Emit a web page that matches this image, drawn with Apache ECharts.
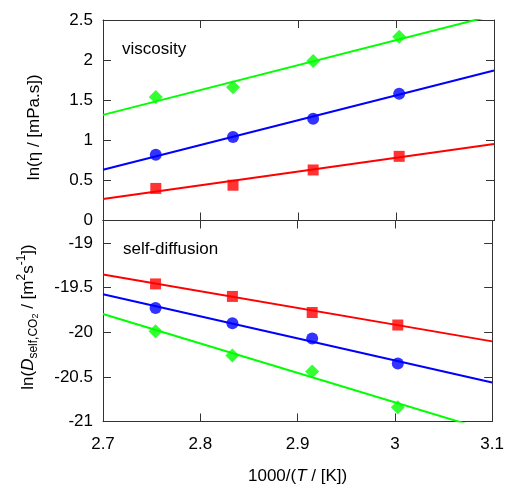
<!DOCTYPE html>
<html>
<head>
<meta charset="utf-8">
<script src="https://cdn.jsdelivr.net/npm/echarts@6/dist/echarts.min.js"></script>
<style>
html,body{margin:0;padding:0;background:#fff;}
#chart{width:507px;height:489px;}
</style>
</head>
<body>
<div id="chart"></div>
<script>
// x values: 1000/(T/[K])
const xPoints = [2.754, 2.833, 2.915, 3.003];
const fitX = [2.7, 3.1];

// Viscosity ln(eta / [mPa.s])
const viscRed   = [0.40, 0.44, 0.63, 0.80];
const viscBlue  = [0.82, 1.04, 1.27, 1.58];
const viscGreen = [1.54, 1.66, 1.99, 2.29];
const viscRedFit   = [0.267, 0.954];
const viscBlueFit  = [0.633, 1.871];
const viscGreenFit = [1.317, 2.560];

// Self-diffusion ln(D / [m2 s-1])
const diffRed   = [-19.46, -19.60, -19.78, -19.92];
const diffBlue  = [-19.73, -19.90, -20.07, -20.35];
const diffGreen = [-19.99, -20.26, -20.44, -20.84];
const diffRedFit   = [-19.355, -20.103];
const diffBlueFit  = [-19.576, -20.563];
const diffGreenFit = [-19.796, -21.115];

const xTicks = [2.7, 2.8, 2.9, 3.0, 3.1];
const viscTicks = [0, 0.5, 1, 1.5, 2, 2.5];
const diffTicks = [-21, -20.5, -20, -19.5, -19];

const RED = '#ff0000', BLUE = '#0000ff', GREEN = '#00ff00';
const AX = '#333333';
const FONT = 'Liberation Sans, Arial, Helvetica, sans-serif';

function pairs(xs, ys){ return xs.map((x,i)=>[x, ys[i]]); }

const axisLineStyle = {show:true, onZero:false, lineStyle:{color:AX, width:1}};
const tickStyle = {show:true, inside:true, length:8, lineStyle:{color:AX, width:1}};

function xAx(grid, pos, showLabel, name){
  const a = {
    type:'value', gridIndex:grid, position:pos, min:2.7, max:3.1, interval:0.1,
    axisLine:axisLineStyle, axisTick:tickStyle, splitLine:{show:false},
    axisLabel:{show:showLabel, margin:14, fontSize:17, color:'#000', fontFamily:FONT,
      formatter: v => { const s = Math.round(v*10)/10; return s === 3 ? '3' : String(s); }}
  };
  if (name) {
    a.name = name; a.nameLocation = 'middle'; a.nameGap = 46;
    a.nameTextStyle = {fontSize:17, color:'#000', fontFamily:FONT,
      rich:{i:{fontSize:17, fontStyle:'italic', fontFamily:FONT, color:'#000'}}};
  }
  return a;
}

function yAx(grid, pos, min, max, showLabel, name, nameOpts){
  const a = {
    type:'value', gridIndex:grid, position:pos, min:min, max:max, interval:0.5,
    axisLine:axisLineStyle, axisTick:tickStyle, splitLine:{show:false},
    axisLabel:{show:showLabel, margin:10, fontSize:17, color:'#000', fontFamily:FONT,
      showMaxLabel: grid===0, showMinLabel:true,
      formatter: v => String(Math.round(v*100)/100)}
  };
  if (name) Object.assign(a, {name:name, nameLocation:'middle'}, nameOpts);
  return a;
}

const chart = echarts.init(document.getElementById('chart'), null, {renderer:'canvas'});

const option = {
  animation:false,
  backgroundColor:'#ffffff',
  grid:[
    {left:103, right:13, top:20, height:200.5, containLabel:false},
    {left:103, right:13, top:220.5, height:201, containLabel:false}
  ],
  xAxis:[
    xAx(0,'bottom',false),
    xAx(0,'top',false),
    xAx(1,'bottom',true,'1000/({i|T} / [K])'),
    xAx(1,'top',false)
  ],
  yAxis:[
    yAx(0,'left',0,2.5,true,'ln(η / [mPa.s])',{nameGap:60,
      nameTextStyle:{fontSize:17,color:'#000',fontFamily:FONT,padding:[0,14,0,0]}}),
    yAx(0,'right',0,2.5,false),
    yAx(1,'left',-21,-18.75,true,'{n|ln(}{i|D}{s|self,CO}{ss|2}{n| / [m}{p|2}{n|s}{p|-1}{n|])}',{nameGap:63,
      nameTextStyle:{fontSize:17,color:'#000',fontFamily:FONT,padding:[0,0,0,8],
        rich:{
          n:{fontSize:17,lineHeight:24,verticalAlign:'middle',fontFamily:FONT,color:'#000'},
          i:{fontSize:17,lineHeight:24,verticalAlign:'middle',fontStyle:'italic',fontFamily:FONT,color:'#000'},
          s:{fontSize:12,lineHeight:14,verticalAlign:'bottom',fontFamily:FONT,color:'#000'},
          ss:{fontSize:9,lineHeight:7,verticalAlign:'bottom',fontFamily:FONT,color:'#000'},
          p:{fontSize:12,lineHeight:12,verticalAlign:'top',fontFamily:FONT,color:'#000'}
        }}}),
    yAx(1,'right',-21,-18.75,false)
  ],
  series:[
    {type:'line', xAxisIndex:0, yAxisIndex:0, data:pairs(fitX, viscRedFit), showSymbol:false, clip:true, lineStyle:{color:RED,width:2}, silent:true},
    {type:'line', xAxisIndex:0, yAxisIndex:0, data:pairs(fitX, viscBlueFit), showSymbol:false, clip:true, lineStyle:{color:BLUE,width:2}, silent:true},
    {type:'line', xAxisIndex:0, yAxisIndex:0, data:pairs(fitX, viscGreenFit), showSymbol:false, clip:true, lineStyle:{color:GREEN,width:2}, silent:true},
    {type:'scatter', xAxisIndex:0, yAxisIndex:0, data:pairs(xPoints, viscRed), symbol:'rect', symbolSize:11, itemStyle:{color:RED}},
    {type:'scatter', xAxisIndex:0, yAxisIndex:0, data:pairs(xPoints, viscBlue), symbol:'circle', symbolSize:12, itemStyle:{color:BLUE}},
    {type:'scatter', xAxisIndex:0, yAxisIndex:0, data:pairs(xPoints, viscGreen), symbol:'diamond', symbolSize:14, itemStyle:{color:GREEN}},

    {type:'line', xAxisIndex:2, yAxisIndex:2, data:pairs(fitX, diffRedFit), showSymbol:false, clip:true, lineStyle:{color:RED,width:2}, silent:true},
    {type:'line', xAxisIndex:2, yAxisIndex:2, data:pairs(fitX, diffBlueFit), showSymbol:false, clip:true, lineStyle:{color:BLUE,width:2}, silent:true},
    {type:'line', xAxisIndex:2, yAxisIndex:2, data:pairs(fitX, diffGreenFit), showSymbol:false, clip:true, lineStyle:{color:GREEN,width:2}, silent:true},
    {type:'scatter', xAxisIndex:2, yAxisIndex:2, data:pairs(xPoints, diffRed), symbol:'rect', symbolSize:11, itemStyle:{color:RED}},
    {type:'scatter', xAxisIndex:2, yAxisIndex:2, data:pairs(xPoints, diffBlue), symbol:'circle', symbolSize:12, itemStyle:{color:BLUE}},
    {type:'scatter', xAxisIndex:2, yAxisIndex:2, data:pairs(xPoints, diffGreen), symbol:'diamond', symbolSize:14, itemStyle:{color:GREEN}}
  ],
  graphic:[
    {type:'text', left:122, top:41, style:{text:'viscosity', fontSize:17, fontFamily:FONT, fill:'#000'}},
    {type:'text', left:123, top:241, style:{text:'self-diffusion', fontSize:17, fontFamily:FONT, fill:'#000'}}
  ]
};
chart.setOption(option);
</script>
</body>
</html>
